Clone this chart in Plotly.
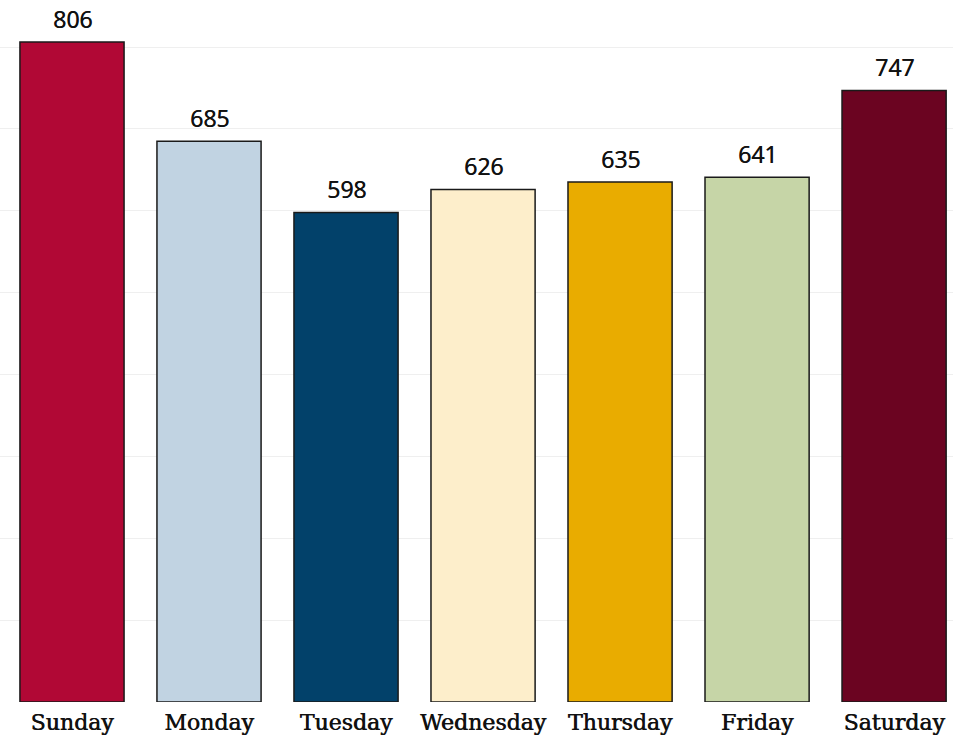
import plotly.graph_objects as go

# Weekly totals by day
days = ["Sunday", "Monday", "Tuesday", "Wednesday", "Thursday", "Friday", "Saturday"]
counts = [806, 685, 598, 626, 635, 641, 747]
bar_colors = ["#B10835", "#C1D3E2", "#02416A", "#FDEECB", "#E9AC00", "#C6D5A7", "#6B0421"]

fig = go.Figure(
    go.Bar(
        x=days,
        y=counts,
        marker=dict(color=bar_colors, line=dict(color="#1a1a1a", width=1.5)),
        width=0.76,
        hoverinfo="x+y",
    )
)

# value labels above each bar
for d, v in zip(days, counts):
    fig.add_annotation(
        x=d,
        y=v,
        text=str(v),
        showarrow=False,
        yanchor="bottom",
        yshift=5,
        font=dict(family="Open Sans, sans-serif", size=23, color="#111111",
                  shadow="0.5px 0px 0px #111111"),
    )

fig.update_layout(
    width=953,
    height=739,
    margin=dict(l=0, r=0, t=0, b=37),
    plot_bgcolor="white",
    paper_bgcolor="white",
    showlegend=False,
    bargap=0.24,
    xaxis=dict(
        type="category",
        range=[-0.5255, 6.43],
        showgrid=False,
        showline=False,
        ticks="",
        ticklabelstandoff=5,
        tickfont=dict(family="DejaVu Serif, serif", size=22, color="#111111",
                      shadow="0.6px 0px 0px #111111"),
    ),
    yaxis=dict(
        range=[0, 857.4],
        dtick=100,
        showgrid=True,
        gridcolor="#EFEFEF",
        gridwidth=1,
        zeroline=False,
        showticklabels=False,
        ticks="",
    ),
)

fig.write_html("out.html")
